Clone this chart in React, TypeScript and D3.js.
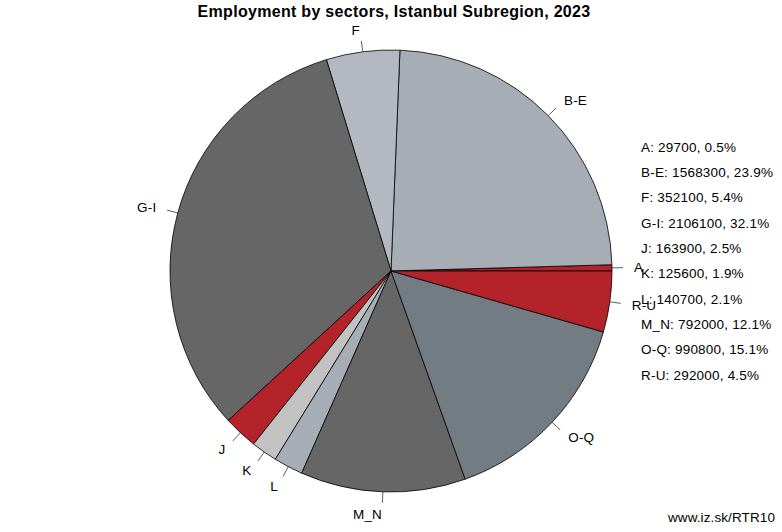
import React, { useEffect, useRef } from 'react';
import * as d3 from 'd3';

const sectors = ['A', 'B-E', 'F', 'G-I', 'J', 'K', 'L', 'M_N', 'O-Q', 'R-U'];
const employed = [29700, 1568300, 352100, 2106100, 163900, 125600, 140700, 792000, 990800, 292000];
const shares = ['0.5%', '23.9%', '5.4%', '32.1%', '2.5%', '1.9%', '2.1%', '12.1%', '15.1%', '4.5%'];
const sliceColors = ['#b5232a', '#a7adb5', '#b4b9c1', '#666666', '#b5232a', '#c2c2c2', '#a7adb5', '#666666', '#747c83', '#b5232a'];

const W = 782;
const H = 532;
const FONT = 'Liberation Sans, Arial, sans-serif';

const App: React.FC = () => {
  const svgRef = useRef<SVGSVGElement>(null);

  useEffect(() => {
    if (!svgRef.current) return;
    const svg = d3.select(svgRef.current);
    svg.selectAll('*').remove();

    const cx = 391;
    const cy = 271;
    const r = 221;

    svg.append('rect').attr('width', W).attr('height', H).attr('fill', '#ffffff');

    svg
      .append('text')
      .attr('x', 394)
      .attr('y', 17)
      .attr('text-anchor', 'middle')
      .attr('font-family', FONT)
      .attr('font-size', '16px')
      .attr('letter-spacing', '0.3px')
      .attr('font-weight', 'bold')
      .text('Employment by sectors, Istanbul Subregion, 2023');

    // counterclockwise from 3 o'clock, like R's pie()
    const pie = d3
      .pie<number>()
      .sort(null)
      .startAngle(Math.PI / 2)
      .endAngle(Math.PI / 2 - 2 * Math.PI);
    const arcs = pie(employed);
    const arc = d3.arc<d3.PieArcDatum<number>>().innerRadius(0).outerRadius(r);

    const g = svg.append('g').attr('transform', `translate(${cx},${cy})`);

    g.selectAll('path.slice')
      .data(arcs)
      .join('path')
      .attr('class', 'slice')
      .attr('d', arc)
      .attr('fill', (_, i) => sliceColors[i])
      .attr('stroke', '#000000')
      .attr('stroke-width', 0.8);

    arcs.forEach((a, i) => {
      const mid = (a.startAngle + a.endAngle) / 2;
      const dx = Math.sin(mid);
      const dy = -Math.cos(mid);
      g.append('line')
        .attr('x1', dx * r)
        .attr('y1', dy * r)
        .attr('x2', dx * r * 1.05)
        .attr('y2', dy * r * 1.05)
        .attr('stroke', '#333333')
        .attr('stroke-width', 0.8);
      g.append('text')
        .attr('x', dx * r * 1.1)
        .attr('y', dy * r * 1.1)
        .attr('dy', '0.35em')
        .attr('text-anchor', dx < 0 ? 'end' : 'start')
        .attr('font-family', FONT)
        .attr('font-size', '13.5px')
        .attr('letter-spacing', '0.2px')
        .attr('fill', '#000000')
        .text(sectors[i]);
    });

    const legendY = d3.scalePoint<string>().domain(sectors).range([147, 375]);
    svg
      .append('g')
      .selectAll('text')
      .data(sectors)
      .join('text')
      .attr('x', 641)
      .attr('y', (d) => legendY(d)!)
      .attr('dy', '0.35em')
      .attr('font-family', FONT)
      .attr('font-size', '13.5px')
      .attr('letter-spacing', '0.2px')
      .attr('fill', '#000000')
      .text((d, i) => `${d}: ${employed[i]}, ${shares[i]}`);

    svg
      .append('text')
      .attr('x', 775)
      .attr('y', 522)
      .attr('text-anchor', 'end')
      .attr('font-family', FONT)
      .attr('font-size', '13.5px')
      .attr('letter-spacing', '0.1px')
      .text('www.iz.sk/RTR10');
  }, []);

  return (
    <svg
      ref={svgRef}
      width={W}
      height={H}
      style={{ display: 'block', position: 'absolute', left: 0, top: 0 }}
    />
  );
};

export default App;
